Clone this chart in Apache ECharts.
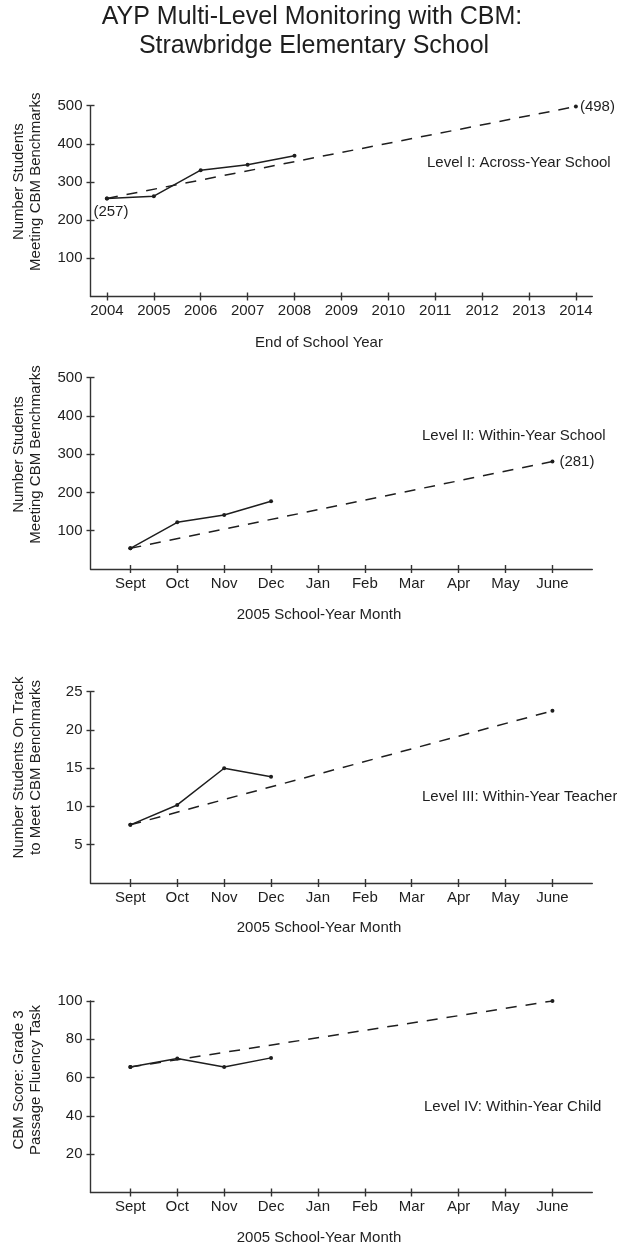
<!DOCTYPE html>
<html>
<head>
<meta charset="utf-8">
<script src="https://cdn.jsdelivr.net/npm/echarts@6/dist/echarts.min.js"></script>
<style>
html, body { margin: 0; padding: 0; background: #fff; }
#chart { width: 617px; height: 1249px; }
</style>
</head>
<body>
<div id="chart"></div>
<script>
// 横轴刻度
var years = [2004, 2005, 2006, 2007, 2008, 2009, 2010, 2011, 2012, 2013, 2014];
var months = ['Sept', 'Oct', 'Nov', 'Dec', 'Jan', 'Feb', 'Mar', 'Apr', 'May', 'June'];

// Level I : 2004-2008 实际值, 目标线 2004 -> 2014
var level1Actual = [257, 263, 331, 345, 369];
var level1Goal = [257, 498];
// Level II
var level2Actual = [54, 122, 141, 177];
var level2Goal = [54, 281];
// Level III
var level3Actual = [7.6, 10.2, 15.0, 13.9];
var level3Goal = [7.6, 22.5];
// Level IV
var level4Actual = [65.5, 70, 65.5, 70.3];
var level4Goal = [65.5, 100];

// 纵轴刻度
var yTicks1 = [100, 200, 300, 400, 500];
var yTicks2 = [100, 200, 300, 400, 500];
var yTicks3 = [5, 10, 15, 20, 25];
var yTicks4 = [20, 40, 60, 80, 100];

var FONT = '"Liberation Sans", Arial, Helvetica, sans-serif';
var INK = '#1e1e1e';
var AXIS = '#333';

var monthIdx = months.map(function (m, i) { return i; });

function xRange(isYear) {
	return isYear ? { min: 2003.65, max: 2014.35 } : { min: -0.85, max: 9.85 };
}

function xAxisOf(gridIndex, isYear) {
	var ticks = isYear ? years : monthIdx;
	var r = xRange(isYear);
	return {
		type: 'value',
		gridIndex: gridIndex,
		position: 'bottom',
		min: r.min,
		max: r.max,
		axisLine: { show: true, onZero: false, lineStyle: { color: AXIS, width: 1.4 } },
		axisTick: { show: true, length: 4, customValues: ticks, lineStyle: { color: AXIS, width: 1.4 } },
		axisLabel: {
			customValues: ticks,
			margin: 7,
			color: INK,
			fontFamily: FONT,
			fontSize: 15,
			formatter: function (v) { return isYear ? String(v) : months[Math.round(v)]; }
		},
		splitLine: { show: false }
	};
}

// 只画向内的短刻度, 让刻度线穿过坐标轴
function xInnerTicks(gridIndex, isYear) {
	var ticks = isYear ? years : monthIdx;
	var r = xRange(isYear);
	return {
		type: 'value',
		gridIndex: gridIndex,
		position: 'bottom',
		min: r.min,
		max: r.max,
		axisLine: { show: false, onZero: false },
		axisTick: { show: true, inside: true, length: 4, customValues: ticks, lineStyle: { color: AXIS, width: 1.4 } },
		axisLabel: { show: false },
		splitLine: { show: false }
	};
}

function yAxisOf(gridIndex, ticks) {
	return {
		type: 'value',
		gridIndex: gridIndex,
		position: 'left',
		min: 0,
		max: ticks[ticks.length - 1],
		axisLine: { show: true, onZero: false, lineStyle: { color: AXIS, width: 1.4 } },
		axisTick: { show: true, length: 4, customValues: ticks, lineStyle: { color: AXIS, width: 1.4 } },
		axisLabel: { customValues: ticks, margin: 8, color: INK, fontFamily: FONT, fontSize: 15 },
		splitLine: { show: false }
	};
}

function yInnerTicks(gridIndex, ticks) {
	return {
		type: 'value',
		gridIndex: gridIndex,
		position: 'left',
		min: 0,
		max: ticks[ticks.length - 1],
		axisLine: { show: false, onZero: false },
		axisTick: { show: true, inside: true, length: 4, customValues: ticks, lineStyle: { color: AXIS, width: 1.4 } },
		axisLabel: { show: false },
		splitLine: { show: false }
	};
}

// 实线 (实际值)
function actualSeries(idx, xs, vals) {
	return {
		type: 'line',
		xAxisIndex: idx,
		yAxisIndex: idx,
		data: vals.map(function (v, i) { return [xs[i], v]; }),
		symbol: 'circle',
		symbolSize: 4,
		lineStyle: { color: INK, width: 1.5 },
		itemStyle: { color: INK },
		z: 3
	};
}

// 虚线 (目标线)
function goalSeries(idx, x0, x1, vals, startLabel, endDist) {
	var p0 = { value: [x0, vals[0]] };
	var p1 = { value: [x1, vals[1]] };
	if (startLabel) {
		p0.label = { show: true, position: 'bottom', distance: 4, offset: [4, 0] };
	}
	if (endDist) {
		p1.label = { show: true, position: 'right', distance: endDist };
	}
	return {
		type: 'line',
		xAxisIndex: idx,
		yAxisIndex: idx,
		data: [p0, p1],
		symbol: 'circle',
		symbolSize: 4,
		lineStyle: { color: INK, width: 1.5, type: [11, 9] },
		itemStyle: { color: INK },
		label: {
			color: INK,
			fontFamily: FONT,
			fontSize: 15,
			formatter: function (p) { return '(' + p.value[1] + ')'; }
		},
		z: 2
	};
}

function txt(x, y, text, opt) {
	opt = opt || {};
	return {
		type: 'text',
		x: x,
		y: y,
		rotation: opt.rot || 0,
		style: {
			text: text,
			fill: INK,
			font: (opt.size || 15) + 'px ' + FONT,
			textAlign: opt.align || 'center',
			textVerticalAlign: 'middle',
			lineHeight: opt.lh || 17
		}
	};
}

var myChart = echarts.init(document.getElementById('chart'));

var option = {
	backgroundColor: '#fff',
	animation: false,
	grid: [
		{ left: 90.5, top: 105.7, width: 501.8, height: 190.8 },
		{ left: 90.5, top: 377.7, width: 501.8, height: 191.3 },
		{ left: 90.5, top: 691.7, width: 501.8, height: 191.3 },
		{ left: 90.5, top: 1001, width: 501.8, height: 191.5 }
	],
	xAxis: [
		xAxisOf(0, true), xAxisOf(1, false), xAxisOf(2, false), xAxisOf(3, false),
		xInnerTicks(0, true), xInnerTicks(1, false), xInnerTicks(2, false), xInnerTicks(3, false)
	],
	yAxis: [
		yAxisOf(0, yTicks1), yAxisOf(1, yTicks2), yAxisOf(2, yTicks3), yAxisOf(3, yTicks4),
		yInnerTicks(0, yTicks1), yInnerTicks(1, yTicks2), yInnerTicks(2, yTicks3), yInnerTicks(3, yTicks4)
	],
	series: [
		actualSeries(0, years, level1Actual),
		goalSeries(0, years[0], years[years.length - 1], level1Goal, true, 2),
		actualSeries(1, monthIdx, level2Actual),
		goalSeries(1, 0, 9, level2Goal, false, 5),
		actualSeries(2, monthIdx, level3Actual),
		goalSeries(2, 0, 9, level3Goal, false, 0),
		actualSeries(3, monthIdx, level4Actual),
		goalSeries(3, 0, 9, level4Goal, false, 0)
	],
	graphic: [
		txt(312, 17, 'AYP Multi-Level Monitoring with CBM:', { size: 25 }),
		txt(314, 46, 'Strawbridge Elementary School', { size: 25 }),

		txt(27.5, 181.7, 'Number Students\nMeeting CBM Benchmarks', { rot: Math.PI / 2 }),
		txt(27.5, 454.5, 'Number Students\nMeeting CBM Benchmarks', { rot: Math.PI / 2 }),
		txt(27.5, 767.5, 'Number Students On Track\nto Meet CBM Benchmarks', { rot: Math.PI / 2 }),
		txt(27.5, 1080, 'CBM Score: Grade 3\nPassage Fluency Task', { rot: Math.PI / 2 }),

		txt(319, 342.7, 'End of School Year'),
		txt(319, 615, '2005 School-Year Month'),
		txt(319, 928.3, '2005 School-Year Month'),
		txt(319, 1238.3, '2005 School-Year Month'),

		txt(427, 163, 'Level I: Across-Year School', { align: 'left' }),
		txt(422, 435.7, 'Level II: Within-Year School', { align: 'left' }),
		txt(422, 797.3, 'Level III: Within-Year Teacher', { align: 'left' }),
		txt(424, 1106.7, 'Level IV: Within-Year Child', { align: 'left' })
	]
};
myChart.setOption(option);
</script>
</body>
</html>
